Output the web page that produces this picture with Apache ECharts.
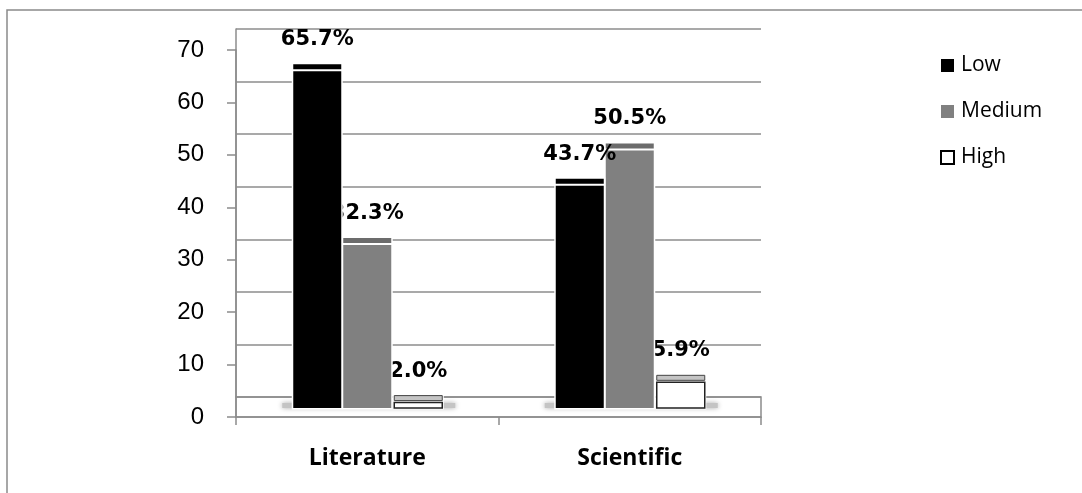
<!DOCTYPE html>
<html>
<head>
<meta charset="utf-8">
<script src="https://cdn.jsdelivr.net/npm/echarts@6/dist/echarts.min.js"></script>
<style>
  html, body { margin: 0; padding: 0; background: #fff; }
  #chart { width: 1082px; height: 493px; }
</style>
</head>
<body>
<div id="chart"></div>
<script>
// Share of readers by interest level, per book type
const categories = ['Literature', 'Scientific'];
const lowValues = [65.7, 43.7];
const mediumValues = [32.3, 50.5];
const highValues = [2.0, 5.9];
const yTicks = { min: 0, max: 70, interval: 10 };

const GRID_LEFT = 236;
const GRID_RIGHT = 1082 - 761;
const gridColor = '#8c8c8c';

// One bar of the pseudo-3D column: a front face plus a thin top face and its value label
function barRenderer(look, offset) {
  return function (params, api) {
    const cat = api.value(0);
    const v = api.value(1);
    const top = api.coord([cat, v]);
    const base = api.coord([cat, 0]);
    const w = 48;
    const cx = top[0] + offset;
    const x = cx - w / 2;
    const capH = 5, gap = 2;
    const bottom = base[1] + 2;
    const frontY = top[1] + capH + gap;
    return {
      type: 'group',
      children: [
        { type: 'rect', shape: { x: x - 1.5, y: top[1] - 1.5, width: w + 3, height: bottom - top[1] + 3 },
          style: { fill: '#fff' } },
        { type: 'rect', shape: { x: x, y: top[1], width: w, height: capH },
          style: { fill: look.cap, stroke: look.capStroke, lineWidth: look.capStroke ? 1 : 0 } },
        { type: 'rect', shape: { x: x, y: frontY, width: w, height: bottom - frontY },
          style: { fill: look.front, stroke: look.frontStroke, lineWidth: look.frontStroke ? 1.5 : 0 } },
        { type: 'text', x: cx, y: top[1] - 14,
          style: { text: v.toFixed(1) + '%', align: 'center', verticalAlign: 'bottom',
                   font: 'bold 21px "DejaVu Sans"', fill: '#000' } }
      ]
    };
  };
}

// Soft shadow on the floor beneath each group of bars
function floorShadow(params, api) {
  const base = api.coord([api.value(0), 0]);
  return {
    type: 'rect',
    shape: { x: base[0] - 85, y: base[1] - 3, width: 173, height: 5 },
    style: { fill: '#c4c4c4', shadowBlur: 5, shadowColor: '#aaa' }
  };
}

const toPairs = arr => arr.map((v, i) => [i, v]);

const chart = echarts.init(document.getElementById('chart'));
chart.setOption({
  backgroundColor: '#fff',
  animation: false,
  graphic: [{
    type: 'rect', silent: true, z: 0,
    shape: { x: 7, y: 10, width: 1200, height: 600 },
    style: { fill: 'none', stroke: '#8a8a8a', lineWidth: 1.5 }
  }],
  legend: {
    orient: 'vertical',
    left: 940,
    top: 55,
    padding: 0,
    itemWidth: 13,
    itemHeight: 13,
    itemGap: 25,
    textStyle: { fontFamily: 'Open Sans', fontSize: 21, color: '#000', lineHeight: 20, padding: [0, 0, 0, 2] },
    data: [
      { name: 'Low', icon: 'rect', itemStyle: { color: '#000' } },
      { name: 'Medium', icon: 'rect', itemStyle: { color: '#808080' } },
      { name: 'High', icon: 'rect', itemStyle: { color: '#fff', borderColor: '#000', borderWidth: 2 } }
    ]
  },
  grid: [
    // back wall
    { left: GRID_LEFT, right: GRID_RIGHT, top: 29, bottom: 493 - 397 },
    // front axis plane
    { left: GRID_LEFT, right: GRID_RIGHT, top: 50, bottom: 493 - 417 },
    // bars at mid depth
    { left: GRID_LEFT, right: GRID_RIGHT, top: 42, bottom: 493 - 406 },
    // floor outline
    { left: GRID_LEFT, right: GRID_RIGHT, top: 397, bottom: 493 - 417, show: true,
      borderColor: gridColor, borderWidth: 1.5, backgroundColor: 'transparent' }
  ],
  xAxis: [
    { gridIndex: 0, type: 'category', data: categories, show: false },
    { gridIndex: 1, type: 'category', data: categories,
      axisLine: { lineStyle: { color: gridColor, width: 1.5 } },
      axisTick: { show: true, length: 8, lineStyle: { color: gridColor, width: 1.5 } },
      axisLabel: { margin: 30, fontFamily: 'Open Sans', fontWeight: 'bold', fontSize: 23, color: '#000' } },
    { gridIndex: 2, type: 'category', data: categories, show: false },
    { gridIndex: 3, type: 'category', data: categories, show: false }
  ],
  yAxis: [
    { gridIndex: 0, type: 'value', min: yTicks.min, max: yTicks.max, interval: yTicks.interval,
      axisLine: { show: true, lineStyle: { color: gridColor, width: 1.5 } },
      axisTick: { show: false }, axisLabel: { show: false },
      splitLine: { show: true, lineStyle: { color: gridColor, width: 1.5 } } },
    { gridIndex: 1, type: 'value', min: yTicks.min, max: yTicks.max, interval: yTicks.interval,
      axisLine: { show: true, lineStyle: { color: gridColor, width: 1.5 } },
      axisTick: { show: true, length: 9, lineStyle: { color: gridColor, width: 1.5 } },
      axisLabel: { margin: 32, fontFamily: 'Liberation Sans', fontSize: 24, color: '#000' },
      splitLine: { show: false } },
    { gridIndex: 2, type: 'value', min: yTicks.min, max: yTicks.max, interval: yTicks.interval, show: false,
      splitLine: { show: false } },
    { gridIndex: 3, type: 'value', show: false, splitLine: { show: false } }
  ],
  series: [
    { type: 'custom', name: 'shadow', xAxisIndex: 2, yAxisIndex: 2, z: 2, silent: true,
      renderItem: floorShadow, data: categories.map((c, i) => [i]) },
    { type: 'custom', name: 'High', xAxisIndex: 2, yAxisIndex: 2, z: 3,
      renderItem: barRenderer({ front: '#fff', frontStroke: '#222', cap: '#c4c4c4', capStroke: '#444' }, 51),
      data: toPairs(highValues) },
    { type: 'custom', name: 'Medium', xAxisIndex: 2, yAxisIndex: 2, z: 4,
      renderItem: barRenderer({ front: '#808080', cap: '#6c6c6c' }, 0),
      data: toPairs(mediumValues) },
    { type: 'custom', name: 'Low', xAxisIndex: 2, yAxisIndex: 2, z: 5,
      renderItem: barRenderer({ front: '#000', cap: '#000' }, -50),
      data: toPairs(lowValues) }
  ]
});
</script>
</body>
</html>
